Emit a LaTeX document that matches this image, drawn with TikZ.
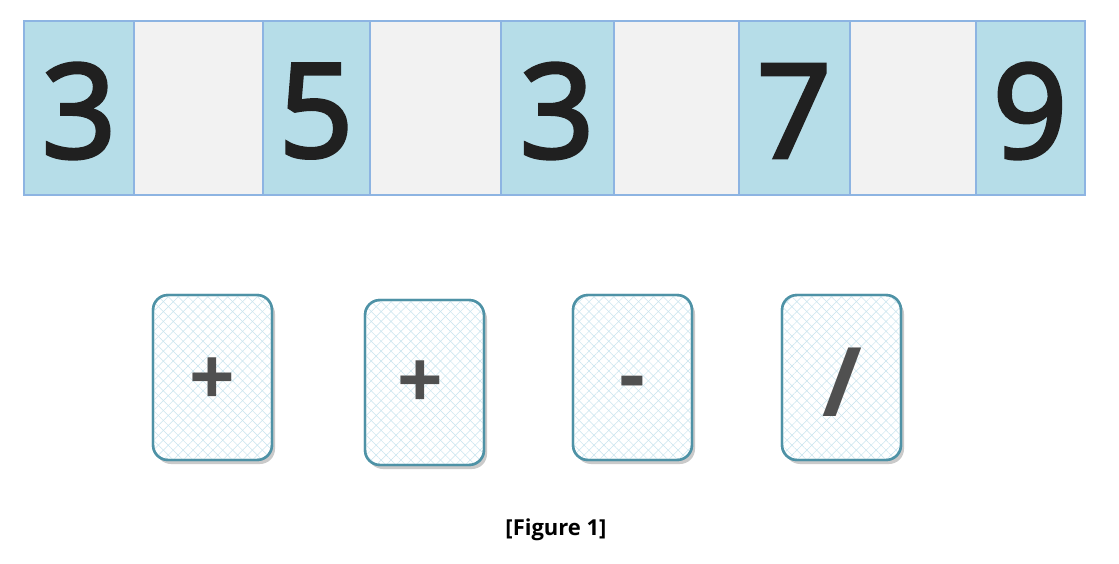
\documentclass[tikz,border=0pt]{standalone}
\usepackage{fontspec}
\setmainfont{Open Sans}
\newfontfamily\digitfont{Open Sans}[FakeBold=3]
\usetikzlibrary{patterns.meta,shadows}
\definecolor{cellblue}{RGB}{182,221,232}
\definecolor{cellgray}{RGB}{242,242,242}
\definecolor{celledge}{RGB}{141,180,226}
\definecolor{cardedge}{RGB}{78,146,166}
\definecolor{hatch}{RGB}{200,228,238}
\definecolor{symgray}{RGB}{80,80,80}
\definecolor{digit}{RGB}{32,32,32}
\tikzset{
  bluecell/.style={draw=celledge,line width=1.3pt,fill=cellblue},
  graycell/.style={draw=celledge,line width=1.3pt,fill=cellgray},
  digitlabel/.style={font=\digitfont\fontsize{130}{130}\selectfont,text=digit,inner sep=0pt},
  cardbox/.style={draw=cardedge,line width=2.4pt,rounded corners=15pt,fill=white,
    drop shadow={shadow xshift=3pt,shadow yshift=-4pt,opacity=0.35,fill=black!60}},
  cardhatch/.style={rounded corners=14pt,
    pattern={Lines[angle=45,distance=7pt,line width=0.5pt]},pattern color=hatch},
  cardhatchb/.style={rounded corners=14pt,
    pattern={Lines[angle=-45,distance=7pt,line width=0.5pt]},pattern color=hatch},
  symlabel/.style={font=\bfseries\fontsize{80}{80}\selectfont,text=symgray,inner sep=0pt},
  slashlabel/.style={font=\bfseries\fontsize{96}{96}\selectfont,text=symgray,inner sep=0pt},
  captionlabel/.style={font=\bfseries\fontsize{22}{22}\selectfont,inner sep=0pt}
}
\begin{document}
\begin{tikzpicture}[x=1pt,y=-1pt]
\useasboundingbox (0,0) rectangle (1119,564);
% top row cells
\path[bluecell] (24,21) rectangle (134,195);
\path[graycell] (134,21) rectangle (263,195);
\path[bluecell] (263,21) rectangle (370,195);
\path[graycell] (370,21) rectangle (501,195);
\path[bluecell] (501,21) rectangle (614,195);
\path[graycell] (614,21) rectangle (739,195);
\path[bluecell] (739,21) rectangle (850,195);
\path[graycell] (850,21) rectangle (976,195);
\path[bluecell] (976,21) rectangle (1085,195);
\node[digitlabel] (d1) at (79,111) {3};
\node[digitlabel] (d2) at (316,111) {5};
\node[digitlabel] (d3) at (557,111) {3};
\node[digitlabel] (d4) at (794,111) {7};
\node[digitlabel] (d5) at (1030,111) {9};
% cards
\foreach \x/\y/\n in {153/295/1,365/300/2,573/295/3,782/295/4}{
  \path[cardbox] (\x,\y) rectangle ++(119,165);
  \path[cardhatch] (\x+1,\y+1) rectangle ++(117,163);
  \path[cardhatchb] (\x+1,\y+1) rectangle ++(117,163);
  \draw[draw=cardedge,line width=2.4pt,rounded corners=15pt] (\x,\y) rectangle ++(119,165);
}
\node[symlabel] (s1) at (212,382) {+};
\node[symlabel] (s2) at (420,385) {+};
\node[symlabel] (s3) at (632,389) {-};
\node[slashlabel] (s4) at (842,382) {/};
\node[captionlabel] (cap) at (556,530) {[Figure 1]};
\end{tikzpicture}
\end{document}
